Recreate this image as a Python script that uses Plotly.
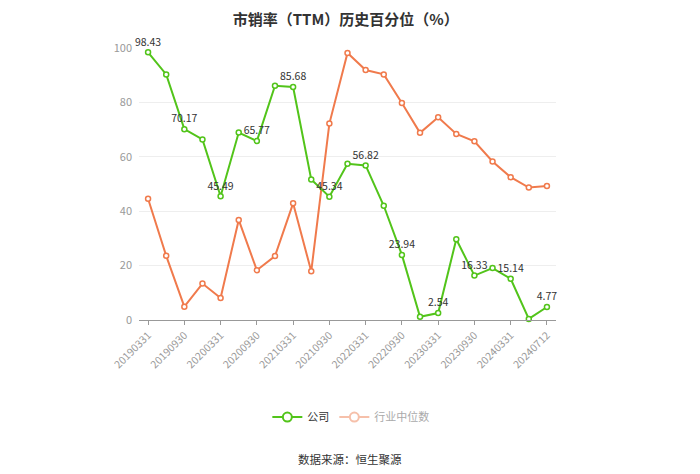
import plotly.graph_objects as go

categories = [
    "20190331", "20190630", "20190930", "20191231",
    "20200331", "20200630", "20200930", "20201231",
    "20210331", "20210630", "20210930", "20211231",
    "20220331", "20220630", "20220930", "20221231",
    "20230331", "20230630", "20230930", "20231231",
    "20240331", "20240630", "20240712",
]
company = [98.43, 90.3, 70.17, 66.4, 45.49, 68.9, 65.77, 86.1, 85.68, 51.7,
           45.34, 57.4, 56.82, 42.0, 23.94, 1.2, 2.54, 29.7, 16.33, 19.1,
           15.14, 0.4, 4.77]
industry = [44.6, 23.6, 4.9, 13.4, 8.1, 36.8, 18.3, 23.5, 42.9, 17.9,
            72.2, 98.2, 91.9, 90.3, 79.8, 68.8, 74.5, 68.4, 65.7, 58.3,
            52.5, 48.7, 49.3]
tick_labels = categories[::2]
y_ticks = [0, 20, 40, 60, 80, 100]

GREEN = "#52c41a"
ORANGE = "#f07a4c"
FONT = "Noto Sans CJK SC"

company_text = [f"{v:.2f}" if i % 2 == 0 else "" for i, v in enumerate(company)]

fig = go.Figure()
fig.add_trace(go.Scatter(
    x=categories, y=industry, mode="lines+markers", name="行业中位数",
    line=dict(color=ORANGE, width=2),
    marker=dict(symbol="circle", size=5, color="white", line=dict(color=ORANGE, width=1.5)),
    showlegend=False,
))
fig.add_trace(go.Scatter(
    x=categories, y=company, mode="lines+markers+text", name="公司",
    text=company_text, textposition="top center",
    textfont=dict(size=10.5, color="#333333", family=FONT),
    line=dict(color=GREEN, width=2),
    marker=dict(symbol="circle", size=5, color="white", line=dict(color=GREEN, width=1.5)),
    showlegend=False,
    cliponaxis=False,
))
# legend entries
fig.add_trace(go.Scatter(
    x=[None], y=[None], mode="lines+markers", name="公司",
    line=dict(color=GREEN, width=2),
    marker=dict(symbol="circle", size=9, color="white", line=dict(color=GREEN, width=2)),
))
fig.add_trace(go.Scatter(
    x=[None], y=[None], mode="lines+markers",
    name="<span style='color:#aaaaaa'>行业中位数</span>",
    line=dict(color="#f6c0aa", width=2),
    marker=dict(symbol="circle", size=9, color="white", line=dict(color="#f6c0aa", width=2)),
))

fig.update_layout(
    width=692, height=466,
    margin=dict(l=131, r=144, t=40, b=154, autoexpand=False),
    paper_bgcolor="white", plot_bgcolor="white",
    font=dict(family=FONT, size=12, color="#333333"),
    title=dict(text="<b>市销率（TTM）历史百分位（%）</b>", x=0.488, xanchor="center",
               yref="container", y=0.985, yanchor="top",
               font=dict(size=15, color="#333333", family=FONT)),
    legend=dict(orientation="h", x=0.508, xanchor="center", y=-0.357, yanchor="middle",
                font=dict(size=11, color="#333333", family=FONT),
                itemwidth=30, traceorder="normal"),
    annotations=[dict(text="数据来源：恒生聚源", xref="paper", yref="paper",
                      x=0.506, y=-0.511, xanchor="center", yanchor="middle",
                      showarrow=False, font=dict(size=11.5, color="#333333", family=FONT))],
)
fig.update_xaxes(
    type="category", categoryorder="array", categoryarray=categories,
    range=[-0.5, len(categories) - 0.5],
    tickmode="array", tickvals=tick_labels, ticktext=tick_labels,
    tickangle=-45, tickfont=dict(size=10.5, color="#999999", family=FONT),
    showline=True, linecolor="#999999", linewidth=1,
    ticks="outside", ticklen=4, tickcolor="#999999",
    showgrid=False, zeroline=False,
)
fig.update_yaxes(
    range=[0, 100], tickmode="array", tickvals=y_ticks,
    tickfont=dict(size=11, color="#999999", family=FONT),
    showgrid=True, gridcolor="#eeeeee", gridwidth=1,
    zeroline=False, showline=False, ticks="", ticklabelstandoff=6,
)
fig.write_html("out.html")
